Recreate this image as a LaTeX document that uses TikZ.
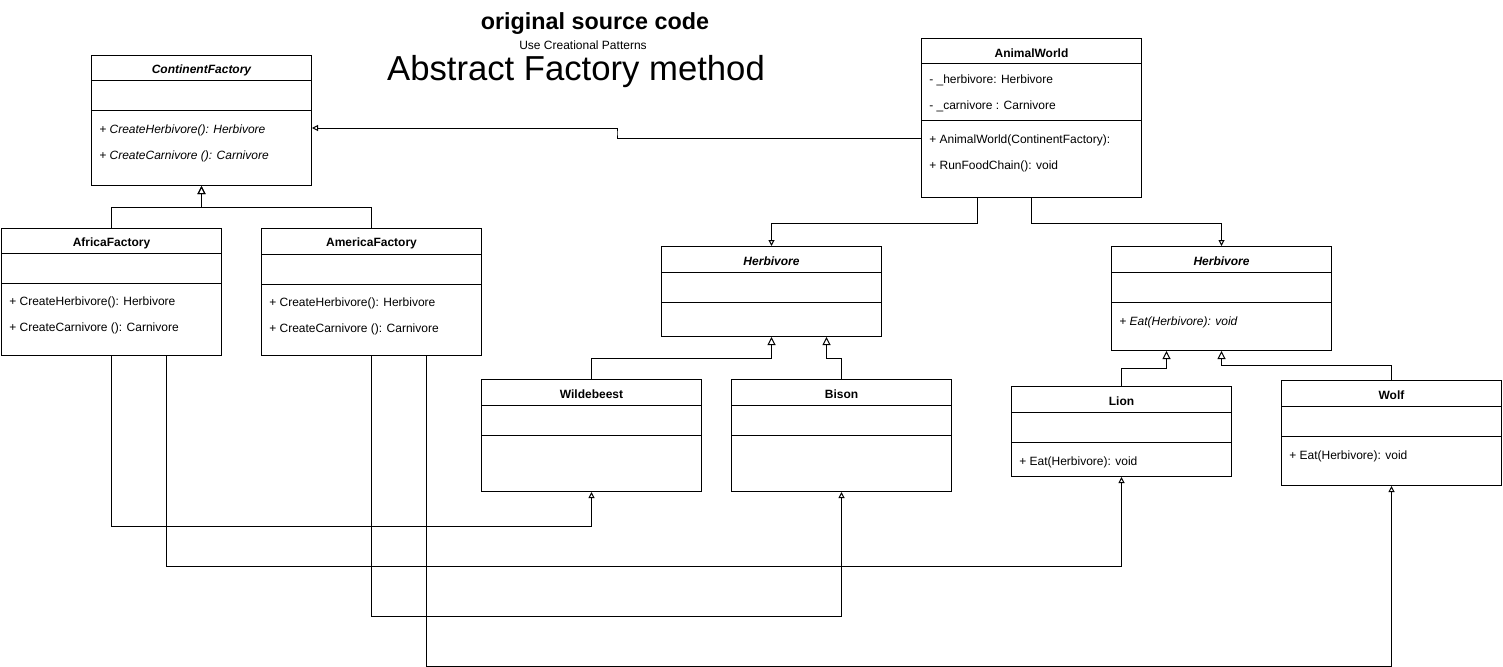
\documentclass[tikz,border=0pt]{standalone}
\usepackage{fontspec}
\setmainfont{Liberation Sans}
\usetikzlibrary{arrows.meta,positioning,calc}

\begin{document}
\begin{tikzpicture}[x=0.75pt, y=-0.75pt,
    classbox/.style={rectangle, draw, line width=0.75pt, anchor=north west, minimum width=165pt, inner sep=0pt},
    cname/.style={inner sep=0pt, font=\bfseries\fontsize{9}{11}\selectfont},
    member/.style={anchor=west, inner sep=0pt, font=\fontsize{9}{11}\selectfont},
    divider/.style={line width=0.75pt},
    inherit/.style={line width=0.75pt, -{Triangle[open, length=6pt, width=6pt]}},
    uses/.style={line width=0.75pt, -{Triangle[open, length=4.5pt, width=4.5pt]}}]

    \useasboundingbox (0,0) rectangle (1503,667);

    % headings
    \node[font=\bfseries\fontsize{17.5}{20}\selectfont] (heading) at (595,24) {original source code};
    \node[font=\fontsize{9}{11}\selectfont] (subheading) at (583,45) {Use Creational Patterns};
    \node[font=\fontsize{26}{30}\selectfont] (pattern) at (576,72) {Abstract Factory method};

    % class boxes
    \node[classbox, minimum height=97.5pt] (cf) at (91,55) {};
    \node[classbox, minimum height=95.25pt] (africa) at (1,228) {};
    \node[classbox, minimum height=95.25pt] (america) at (261,228) {};
    \node[classbox, minimum height=119.25pt] (aw) at (921,38) {};
    \node[classbox, minimum height=67.5pt] (herbl) at (661,246) {};
    \node[classbox, minimum height=78pt] (herbr) at (1111,246) {};
    \node[classbox, minimum height=84pt] (wild) at (481,379) {};
    \node[classbox, minimum height=84pt] (bison) at (731,379) {};
    \node[classbox, minimum height=67.5pt] (lion) at (1011,386) {};
    \node[classbox, minimum height=78.75pt] (wolf) at (1281,380) {};

    % compartments
    \foreach \b/\h/\s in {cf/26/56, africa/25/55, america/26/56, aw/26/82, herbl/26/56,
                           herbr/26/56, wild/26/56, bison/26/56, lion/26/56, wolf/26/56} {
        \draw[divider] ($(\b.north west)+(0,\h)$) -- ($(\b.north east)+(0,\h)$);
        \draw[divider] ($(\b.north west)+(0,\s)$) -- ($(\b.north east)+(0,\s)$);
    }

    % class names
    \node[cname] (cft) at ($(cf.north)+(0,15.5)$) {\itshape ContinentFactory};
    \node[cname] (africat) at ($(africa.north)+(0,15.5)$) {AfricaFactory};
    \node[cname] (americat) at ($(america.north)+(0,15.5)$) {AmericaFactory};
    \node[cname] (awt) at ($(aw.north)+(0,15.5)$) {AnimalWorld};
    \node[cname] (herblt) at ($(herbl.north)+(0,15.5)$) {\itshape Herbivore};
    \node[cname] (herbrt) at ($(herbr.north)+(0,15.5)$) {\itshape Herbivore};
    \node[cname] (wildt) at ($(wild.north)+(0,15.5)$) {Wildebeest};
    \node[cname] (bisont) at ($(bison.north)+(0,15.5)$) {Bison};
    \node[cname] (liont) at ($(lion.north)+(0,15.5)$) {Lion};
    \node[cname] (wolft) at ($(wolf.north)+(0,15.5)$) {Wolf};

    % members
    \node[member] (cfm1) at ($(cf.north west)+(8,75.5)$) {\itshape + CreateHerbivore(): Herbivore};
    \node[member] (cfm2) at ($(cf.north west)+(8,101.5)$) {\itshape + CreateCarnivore (): Carnivore};
    \node[member] (africam1) at ($(africa.north west)+(8,74.5)$) {+ CreateHerbivore(): Herbivore};
    \node[member] (africam2) at ($(africa.north west)+(8,100.5)$) {+ CreateCarnivore (): Carnivore};
    \node[member] (americam1) at ($(america.north west)+(8,75.5)$) {+ CreateHerbivore(): Herbivore};
    \node[member] (americam2) at ($(america.north west)+(8,101.5)$) {+ CreateCarnivore (): Carnivore};
    \node[member] (awa1) at ($(aw.north west)+(8,42)$) {- \_herbivore: Herbivore};
    \node[member] (awa2) at ($(aw.north west)+(8,68)$) {- \_carnivore : Carnivore};
    \node[member] (awm1) at ($(aw.north west)+(8,102)$) {+ AnimalWorld(ContinentFactory):};
    \node[member] (awm2) at ($(aw.north west)+(8,128)$) {+ RunFoodChain(): void};
    \node[member] (herbrm) at ($(herbr.north west)+(8,76)$) {\itshape + Eat(Herbivore): void};
    \node[member] (lionm) at ($(lion.north west)+(8,76)$) {+ Eat(Herbivore): void};
    \node[member] (wolfm) at ($(wolf.north west)+(8,76)$) {+ Eat(Herbivore): void};

    % generalisations
    \draw[inherit] (africa.north) -- ++(0,-21) -| (cf.south);
    \draw[inherit] (america.north) -- ++(0,-21) -| (cf.south);
    \draw[inherit] (wild.north) -- ++(0,-21) -| (herbl.south);
    \draw[inherit] (bison.north) -- ++(0,-21) -| ($(herbl.south)+(55,0)$);
    \draw[inherit] (lion.north) -- ++(0,-18) -| ($(herbr.south)+(-55,0)$);
    \draw[inherit] (wolf.north) -- ++(0,-15) -| (herbr.south);

    % associations
    \draw[uses] ($(aw.north west)+(0,100)$) -| (617,133) |- ($(cf.north east)+(0,73)$);
    \draw[uses] ($(aw.south west)+(56,0)$) -- ++(0,25) -| (herbl.north);
    \draw[uses] ($(aw.south west)+(110,0)$) -- ++(0,25) -| (herbr.north);

    % products
    \draw[uses] (africa.south) -- ++(0,170) -| (wild.south);
    \draw[uses] ($(africa.south)+(55,0)$) -- ++(0,210) -| (lion.south);
    \draw[uses] (america.south) -- ++(0,260) -| (bison.south);
    \draw[uses] ($(america.south)+(55,0)$) -- ++(0,310) -| (wolf.south);
\end{tikzpicture}
\end{document}
